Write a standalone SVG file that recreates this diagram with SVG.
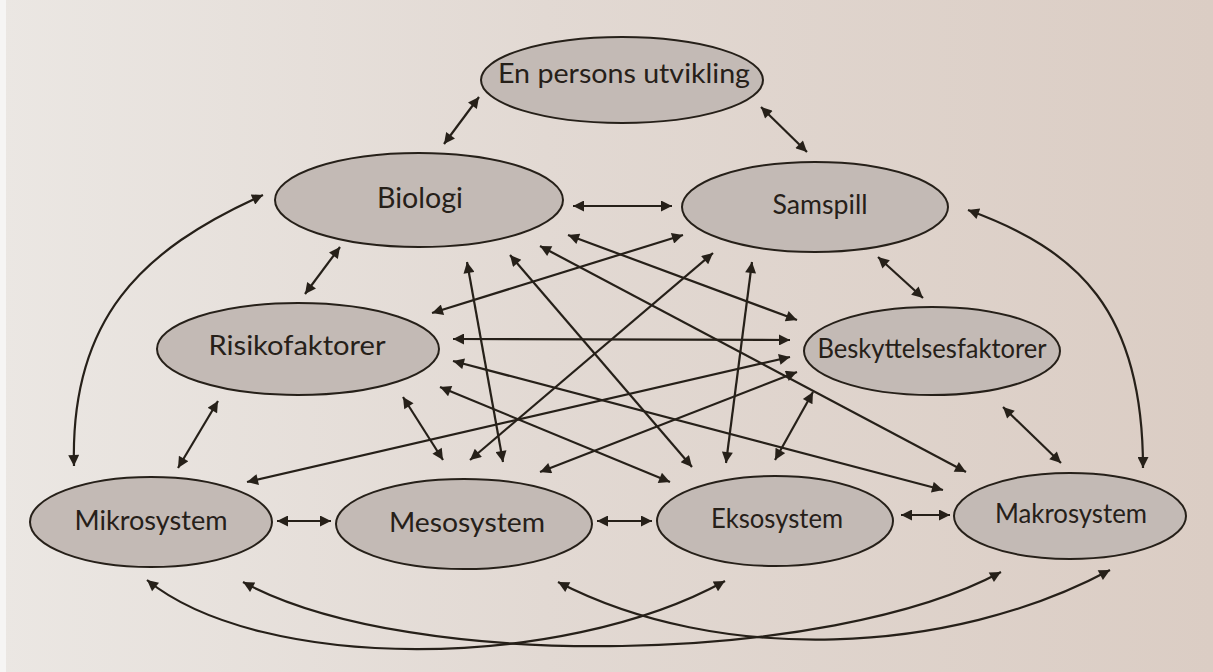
<svg xmlns="http://www.w3.org/2000/svg" width="1213" height="672" viewBox="0 0 1213 672">
  <defs>
    <linearGradient id="paper" x1="0" y1="0" x2="1" y2="0">
      <stop offset="0" stop-color="#ebe7e3"/>
      <stop offset="0.45" stop-color="#e2d9d3"/>
      <stop offset="1" stop-color="#dbcdc4"/>
    </linearGradient>
    <marker id="ah" viewBox="0 0 10 10" refX="10" refY="5" markerWidth="14" markerHeight="11" markerUnits="userSpaceOnUse" orient="auto-start-reverse">
      <path d="M0,0 L10,5 L0,10 z" fill="#262019"/>
    </marker>
    <style>
      .node ellipse { fill: #c3bab5; stroke: #262019; stroke-width: 2; }
      .node text { font-family: Lato, "Open Sans", "DejaVu Sans", sans-serif; font-size: 26px; fill: #262019; text-anchor: middle; }
      #connectors path { fill: none; stroke: #262019; stroke-width: 2.2; marker-start: url(#ah); marker-end: url(#ah); }
    </style>
  </defs>

  <rect x="0" y="0" width="1213" height="672" fill="url(#paper)"/>
  <rect x="0" y="0" width="6" height="672" fill="#f6f5f4"/>

  <g id="connectors">
    <path d="M479,97 L444,144"/>
    <path d="M761,107 L807,152"/>
    <path d="M573,206 L672,206"/>
    <path d="M340,247 L305,294"/>
    <path d="M878,257 L923,298"/>
    <path d="M218,401 L178,468"/>
    <path d="M1003,407 L1061,463"/>
    <path d="M277,521 L331,521"/>
    <path d="M597,521 L652,521"/>
    <path d="M901,515 L950,515"/>
    <path d="M263,195 C140,250 70,320 74,466"/>
    <path d="M968,210 C1078,250 1143,310 1143,468"/>
    <path d="M147,580 C260,672 560,672 725,581"/>
    <path d="M243,582 C413,674 831,664 1001,572"/>
    <path d="M558,582 C718,665 950,656 1110,570"/>
    <path d="M432,313 L683,235"/>
    <path d="M453,339 L790,340"/>
    <path d="M453,361 L943,490"/>
    <path d="M440,387 L670,482"/>
    <path d="M403,397 L443,460"/>
    <path d="M467,262 L503,462"/>
    <path d="M510,255 L692,467"/>
    <path d="M540,246 L966,472"/>
    <path d="M568,235 L797,320"/>
    <path d="M713,253 L470,460"/>
    <path d="M752,262 L726,463"/>
    <path d="M790,357 L247,482"/>
    <path d="M797,372 L540,472"/>
    <path d="M813,392 L775,460"/>
  </g>

  <g id="node-utvikling" class="node">
    <ellipse cx="622" cy="80" rx="141" ry="43"/>
    <text x="624" y="83" textLength="252" lengthAdjust="spacingAndGlyphs">En persons utvikling</text>
  </g>
  <g id="node-biologi" class="node">
    <ellipse cx="419" cy="200" rx="144" ry="47"/>
    <text x="420" y="208" textLength="86" lengthAdjust="spacingAndGlyphs" style="font-size:28px">Biologi</text>
  </g>
  <g id="node-samspill" class="node">
    <ellipse cx="815" cy="207" rx="133" ry="45"/>
    <text x="820" y="214" textLength="95" lengthAdjust="spacingAndGlyphs">Samspill</text>
  </g>
  <g id="node-risikofaktorer" class="node">
    <ellipse cx="298" cy="349" rx="141" ry="46"/>
    <text x="297" y="355" textLength="177" lengthAdjust="spacingAndGlyphs">Risikofaktorer</text>
  </g>
  <g id="node-beskyttelsesfaktorer" class="node">
    <ellipse cx="932" cy="351" rx="128" ry="44"/>
    <text x="932" y="358" textLength="229" lengthAdjust="spacingAndGlyphs">Beskyttelsesfaktorer</text>
  </g>
  <g id="node-mikrosystem" class="node">
    <ellipse cx="151" cy="522" rx="121" ry="45"/>
    <text x="151" y="530" textLength="153" lengthAdjust="spacingAndGlyphs">Mikrosystem</text>
  </g>
  <g id="node-mesosystem" class="node">
    <ellipse cx="464" cy="524" rx="128" ry="45"/>
    <text x="467" y="532" textLength="156" lengthAdjust="spacingAndGlyphs">Mesosystem</text>
  </g>
  <g id="node-eksosystem" class="node">
    <ellipse cx="775" cy="521" rx="118" ry="45"/>
    <text x="777" y="528" textLength="132" lengthAdjust="spacingAndGlyphs">Eksosystem</text>
  </g>
  <g id="node-makrosystem" class="node">
    <ellipse cx="1070" cy="516" rx="116" ry="43"/>
    <text x="1071" y="523" textLength="152" lengthAdjust="spacingAndGlyphs">Makrosystem</text>
  </g>
</svg>
